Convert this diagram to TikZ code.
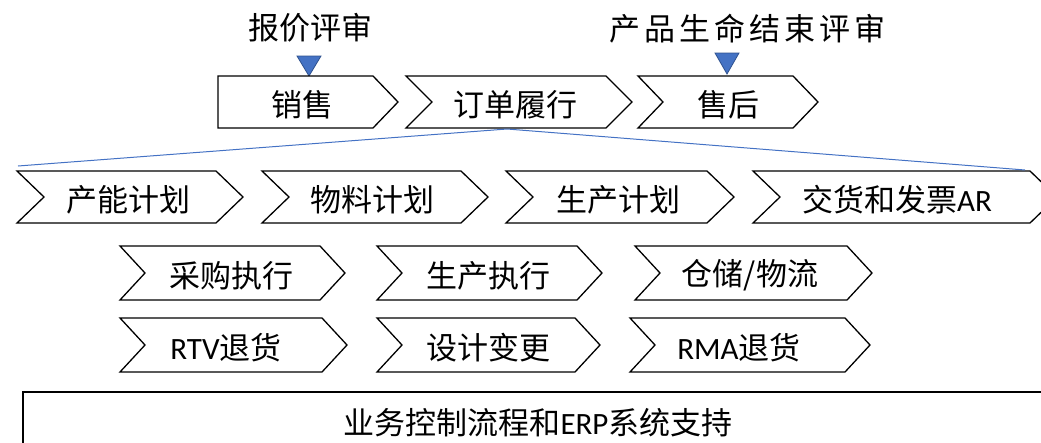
\documentclass[tikz,border=0pt]{standalone}
\usepackage{fontspec}
\setmainfont{Noto Sans CJK SC}
\newfontfamily\lat{Carlito}
\definecolor{lineblue}{HTML}{4472C4}
\definecolor{tridark}{HTML}{2F528F}
\tikzset{
  chev/.style={draw=black, line width=1.3pt, fill=white, line join=miter},
  lbl/.style={inner sep=0pt, font=\fontsize{31}{36}\selectfont},
  tri/.style={fill=lineblue, draw=tridark, line width=0.8pt},
  blueline/.style={draw=lineblue, line width=1pt},
  basebox/.style={draw=black, line width=1.3pt}
}
% #1 name, #2 xl, #3 xr(top right), #4 ytop, #5 ybot, #6 depth, #7 text x, #8 text
\newcommand\chevshape[8]{%
  \draw[chev] (#2,#4) -- (#3,#4) -- ({#3+#6},{(#4+#5)/2}) -- (#3,#5) -- (#2,#5) -- ({#2+#6},{(#4+#5)/2}) -- cycle;
  \node[lbl] (#1) at (#7,{(#4+#5)/2+2.5}) {#8};
}
\newcommand\flatshape[8]{%
  \draw[chev] (#2,#4) -- (#3,#4) -- ({#3+#6},{(#4+#5)/2}) -- (#3,#5) -- (#2,#5) -- cycle;
  \node[lbl] (#1) at (#7,{(#4+#5)/2+2.5}) {#8};
}
\begin{document}
\begin{tikzpicture}[x=1pt,y=-1pt]
\useasboundingbox (0,0) rectangle (1041,442);
\clip (0,0) rectangle (1041,442);

% top labels and markers
\node[lbl] (quote) at (310,28) {报价评审};
\node[lbl] (eol) at (747,29) {产\kern4pt 品\kern4pt 生\kern4pt 命\kern4pt 结\kern4pt 束\kern4pt 评\kern4pt 审};
\draw[tri] (297,56) -- (321,56) -- (309,76) -- cycle;
\draw[tri] (715,53) -- (739,53) -- (727,74) -- cycle;

% row 1
\flatshape{sales}{218}{373}{76}{128}{25}{302}{销售}
\chevshape{order}{406}{606}{76}{128}{26}{515}{订单履行}
\chevshape{after}{638}{793}{76}{128}{25}{728}{售后}

% row 2
\chevshape{cap}{17}{216}{171}{223}{27}{128}{产能计划}
\chevshape{mat}{262}{461}{171}{223}{27}{372}{物料计划}
\chevshape{prod}{506}{707}{171}{223}{27}{618}{生产计划}
\chevshape{deliv}{753}{1030}{171}{223}{27}{897}{交货和发票{\lat AR}}

% row 3
\chevshape{purch}{120}{320}{246}{300}{25}{231}{采购执行}
\chevshape{exec}{377}{577}{246}{300}{25}{488}{生产执行}
\chevshape{wh}{635}{847}{246}{300}{25}{750}{仓储/物流}

% row 4
\chevshape{rtv}{120}{322}{318}{372}{25}{226}{{\lat RTV}退货}
\chevshape{eco}{377}{575}{318}{372}{25}{488}{设计变更}
\chevshape{rma}{630}{845}{318}{372}{25}{739}{{\lat RMA}退货}

% bottom box
\draw[basebox] (23,392) rectangle (1070,470);
\node[lbl] (erp) at (538,423) {业务控制流程和{\lat ERP}系统支持};

% blue fan lines
\coordinate (obot) at (507,129);
\coordinate (lend) at (18,166);
\coordinate (rend) at (1025,170);
\draw[blueline] (lend) -- (obot) -- (rend);
\end{tikzpicture}
\end{document}
